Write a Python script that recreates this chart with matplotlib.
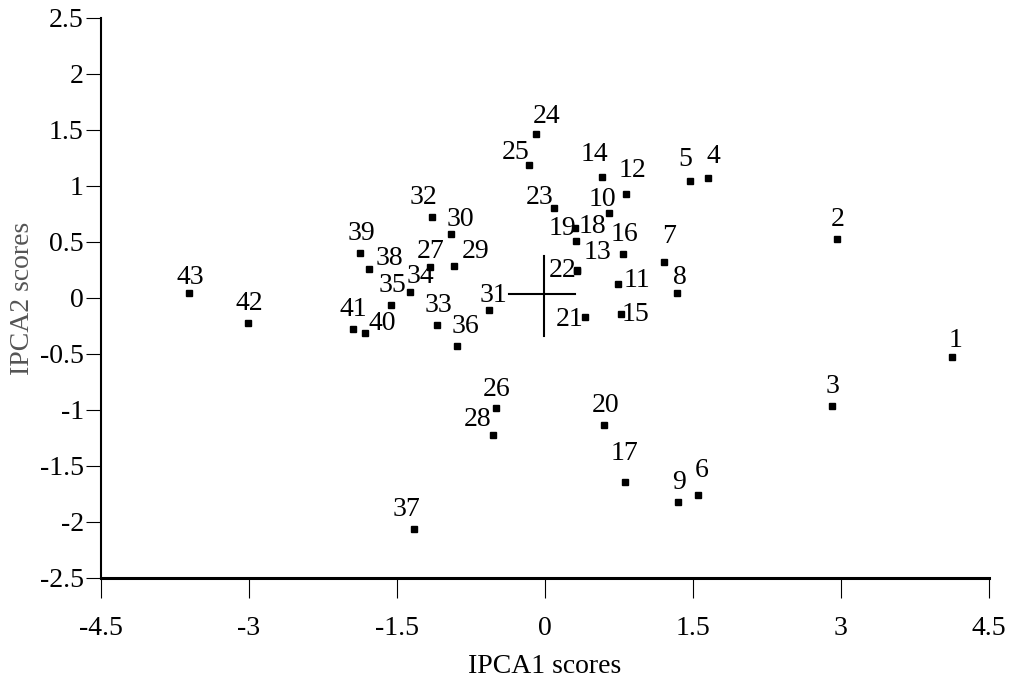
import matplotlib
matplotlib.use('Agg')
import matplotlib.pyplot as plt

# genotype scores
genotypes = list(range(1, 44))
ipca1 = [4.127, 2.960, 2.910, 1.658, 1.473, 1.554, 1.209, 1.337, 1.354, 0.648,
         0.744, 0.824, 0.330, 0.577, 0.770, 0.796, 0.810, 0.319, 0.309, 0.600,
         0.411, 0.327, 0.096, -0.086, -0.157, -0.495, -1.161, -0.525, -0.918, -0.951,
         -0.566, -1.141, -1.090, -1.367, -1.557, -0.894, -1.330, -1.780, -1.874, -1.824,
         -1.948, -3.007, -3.611]
ipca2 = [-0.524, 0.527, -0.964, 1.074, 1.047, -1.756, 0.324, 0.047, -1.824, 0.762,
         0.125, 0.929, 0.245, 1.083, -0.143, 0.390, -1.640, 0.512, 0.622, -1.134,
         -0.167, 0.238, 0.801, 1.467, 1.185, -0.979, 0.280, -1.223, 0.289, 0.571,
         -0.107, 0.720, -0.241, 0.054, -0.065, -0.429, -2.063, 0.259, 0.399, -0.310,
         -0.274, -0.221, 0.042]

# origin cross
cross_x = [-0.36, 0.31]
cross_y = [-0.37, 0.34]
cross_at = (-0.005, 0.033)

xticks = [-4.5, -3, -1.5, 0, 1.5, 3, 4.5]
xticklabels = ['-4.5', '-3', '-1.5', '0', '1.5', '3', '4.5']
yticks = [2.5, 2, 1.5, 1, 0.5, 0, -0.5, -1, -1.5, -2, -2.5]
yticklabels = ['2.5', '2', '1.5', '1', '0.5', '0', '-0.5', '-1', '-1.5', '-2', '-2.5']

# label placement (pixels: right, down) where it differs from "just above"
label_shift = {
    38: (20, -13), 40: (17, -12), 34: (10, -18), 29: (21, -17), 32: (-9, -22),
    30: (9, -17), 36: (9, -22), 24: (10, -20), 25: (-14, -15), 14: (-7, -25),
    12: (6, -26), 5: (-5, -24), 4: (5, -24), 23: (-15, -13), 10: (-6, -16),
    19: (-13, -2), 18: (16, -17), 13: (20, -20), 22: (-15, -3), 11: (19, -6),
    15: (15, -2), 21: (-16, 0), 7: (5, -28), 28: (-16, -18), 17: (0, -31),
    6: (4, -27), 37: (-7, -22), 31: (4, -17), 27: (0, -18), 43: (2, -18),
    1: (4, -19), 8: (3, -18), 26: (1, -21),
}
default_shift = (1, -22)

plt.rcParams['font.family'] = ['Liberation Serif', 'DejaVu Serif']
plt.rcParams['font.size'] = 20

fig = plt.figure(figsize=(10.1, 6.84), dpi=100)
ax = fig.add_axes([0.1, 0.155, 0.879, 0.819])

ax.plot(ipca1, ipca2, 's', color='black', markersize=5, linestyle='none')

px = 0.72  # points per pixel at dpi 100
for g, x, y in zip(genotypes, ipca1, ipca2):
    dx, dy = label_shift.get(g, default_shift)
    ax.annotate(str(g), (x, y), xytext=(dx * px, -(dy + 9) * px),
                textcoords='offset points', ha='center', va='baseline')

cx, cy = cross_at
ax.plot([cx + cross_x[0], cx + cross_x[1]], [cy, cy], color='black', lw=1.5)
ax.plot([cx, cx], [cy + cross_y[0], cy + cross_y[1]], color='black', lw=1.5)

ax.set_xlim(-4.5, 4.5)
ax.set_ylim(-2.5, 2.5)
ax.set_xticks(xticks)
ax.set_xticklabels(xticklabels)
ax.set_yticks(yticks)
ax.set_yticklabels(yticklabels)

for side in ['top', 'right']:
    ax.spines[side].set_visible(False)
ax.spines['left'].set_linewidth(1.5)
ax.spines['bottom'].set_linewidth(2.2)
ax.tick_params(axis='x', direction='out', length=14.4, width=0.8, pad=13)
ax.tick_params(axis='y', direction='out', length=10.5, width=0.8, pad=2)

ax.set_xlabel('IPCA1 scores')
ax.set_ylabel('IPCA2 scores', color='#555555')
ax.xaxis.set_label_coords(0.5, -0.136)
ax.yaxis.set_label_coords(-0.074, 0.5)

fig.savefig('out.png', dpi=100)
